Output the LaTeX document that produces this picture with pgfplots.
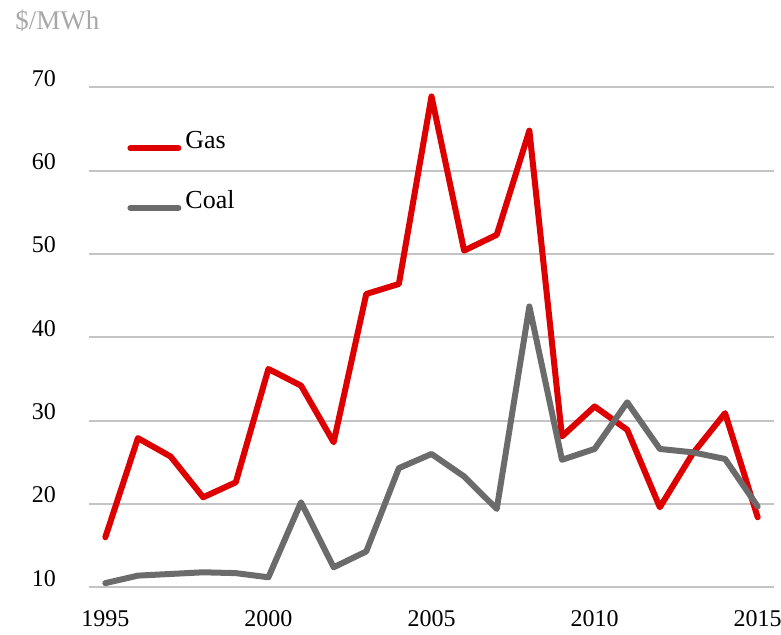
\documentclass[border=0pt]{standalone}
\usepackage{pgfplots}
\pgfplotsset{compat=1.18}
\usepackage{fontspec}
\setmainfont{Liberation Serif}
\definecolor{gasred}{HTML}{DE0000}
\definecolor{coalgray}{HTML}{6B6B6B}
\definecolor{gridgray}{HTML}{C4C4C4}
\definecolor{unitgray}{HTML}{A8A8A8}
\begin{document}
\begin{tikzpicture}
\begin{axis}[
  scale only axis,
  width=342.5pt, height=250pt,
  xmin=1994.5, xmax=2015.5,
  ymin=10, ymax=70,
  clip=false,
  xtick={1995,2000,2005,2010,2015},
  ytick={10,20,30,40,50,60,70},
  xticklabel style={/pgf/number format/1000 sep={}, font=\fontsize{12}{14}\selectfont, yshift=-8pt},
  yticklabel style={font=\fontsize{12}{14}\selectfont, xshift=-13pt, yshift=4.5pt},
  /pgf/number format/assume math mode=true,
  axis line style={draw=none},
  major tick length=0pt,
  ymajorgrids,
  grid style={gridgray, line width=1pt},
  legend style={draw=none, fill=none, at={(axis description cs:0.0555,0.921)}, anchor=north west,
    font=\fontsize{13}{15}\selectfont, row sep=15.5pt, inner sep=0pt},
  legend cell align=left,
  legend image code/.code={\draw[#1, line cap=round] (1.5pt,-3.5pt) -- (25.5pt,-3.5pt);},
]
\addplot[gasred, line width=3pt, line join=round, line cap=round] coordinates {
(1995,16.0) (1996,27.9) (1997,25.7) (1998,20.8) (1999,22.6) (2000,36.2) (2001,34.2)
(2002,27.4) (2003,45.2) (2004,46.4) (2005,68.9) (2006,50.4) (2007,52.3) (2008,64.8)
(2009,28.1) (2010,31.7) (2011,28.9) (2012,19.6) (2013,26.0) (2014,30.9) (2015,18.4)};
\addlegendentry{Gas}
\addplot[coalgray, line width=3pt, line join=round, line cap=round] coordinates {
(1995,10.5) (1996,11.4) (1997,11.6) (1998,11.8) (1999,11.7) (2000,11.2) (2001,20.2)
(2002,12.4) (2003,14.3) (2004,24.3) (2005,26.0) (2006,23.3) (2007,19.4) (2008,43.7)
(2009,25.3) (2010,26.6) (2011,32.2) (2012,26.6) (2013,26.2) (2014,25.4) (2015,19.7)};
\addlegendentry{Coal}
\end{axis}
\node[anchor=base west, inner sep=0pt, text=unitgray, font=\fontsize{13.5}{16}\selectfont] at (-37pt,279pt) {\$/MWh};
\pgfresetboundingbox
\path (-44.5pt,-23.85pt) rectangle (346pt,293.65pt);
\end{tikzpicture}
\end{document}
